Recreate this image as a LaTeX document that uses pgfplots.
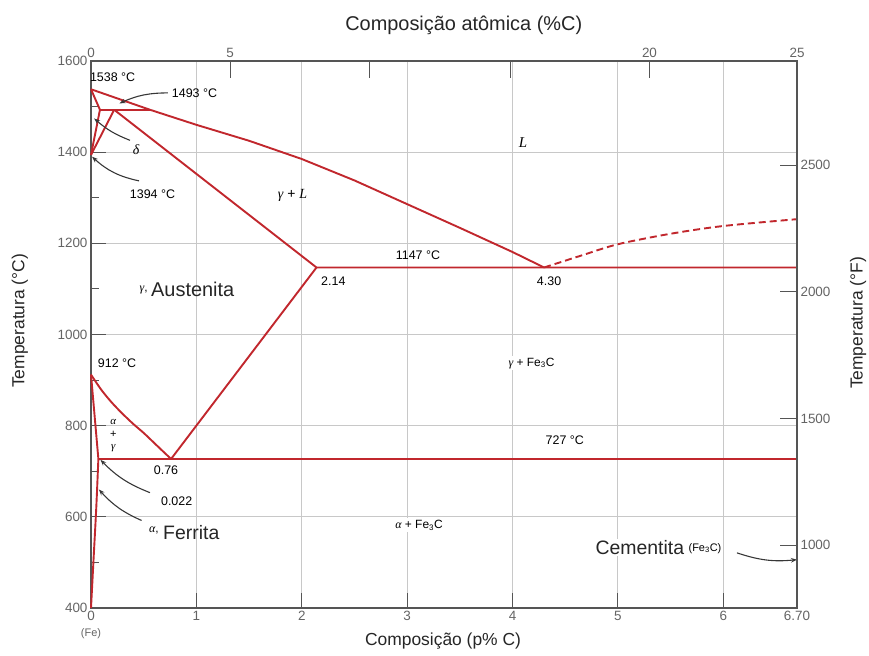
\documentclass[border=0pt]{standalone}
\usepackage{fontspec}
\setmainfont{Liberation Sans}
\newfontfamily\grk{Liberation Serif}
\usepackage{pgfplots}
\pgfplotsset{compat=1.18}
\usetikzlibrary{arrows.meta}
\definecolor{phase}{RGB}{193,39,45}
\definecolor{gridc}{RGB}{200,200,200}
\definecolor{framec}{RGB}{85,85,85}
\definecolor{tl}{RGB}{100,100,100}
\definecolor{txt}{RGB}{75,75,75}
\definecolor{arr}{RGB}{55,55,55}
\newcommand\fs[1]{\fontsize{#1}{#1}\selectfont}
\newcommand\gi[1]{{\grk\itshape #1}}
\begin{document}
\begin{tikzpicture}
\pgfplotsset{common/.style={width=706bp,height=547bp,scale only axis,
  xmin=0,xmax=6.70,ymin=400,ymax=1600,clip=false,
  axis line style={framec,line width=1.1bp},
  tick style={framec,line width=1bp},
  tick label style={font=\fs{13.5}, text=tl},
  label style={font=\fs{17.5}, text=black!85},
  /pgf/number format/assume math mode=true,
  /pgf/number format/1000 sep={},
  tick align=inside},
  pl/.style={draw=phase,line width=1.9bp,line join=round}}
% main axis
\begin{axis}[common,
  xtick={0,1,2,3,4,5,6,6.70}, xticklabels={0,1,2,3,4,5,6,6.70},
  ytick={400,600,...,1600}, minor ytick={500,700,...,1500},
  xtick pos=bottom, ytick pos=left,
  major tick length=15bp, minor tick length=8bp,
  grid=major, grid style={gridc,line width=0.8bp},
  xlabel={Composição (p\% C)},
  xlabel style={at={(axis description cs:0.4986,-0.0603)},anchor=center},
  ylabel={Temperatura (°C)},
  ylabel style={at={(axis description cs:-0.1006,0.525)},anchor=center},
  every node/.append style={text=txt}]
% delta region
\addplot[pl] coordinates {(0,1538) (0.085,1493)};
\addplot[pl] coordinates {(0,1394) (0.085,1493)};
\addplot[pl] coordinates {(0,1394) (0.22,1493)};
\addplot[pl] coordinates {(0.085,1493) (0.56,1493)};
% liquidus
\addplot[pl] coordinates {(0,1538) (0.56,1493) (1.0,1460) (1.5,1425) (2.0,1385) (2.5,1338) (3.0,1286) (3.5,1234) (4.0,1181) (4.30,1147)};
% gamma solidus + eutectic
\addplot[pl] coordinates {(0.22,1493) (2.14,1147) (6.70,1147)};
% Fe3C liquidus (dashed)
\addplot[pl,dash pattern=on 7bp off 4bp,smooth] coordinates {(4.30,1147) (4.65,1173) (5.0,1198) (5.5,1221) (6.0,1238) (6.70,1253)};
% Acm
\addplot[pl] coordinates {(0.76,727) (2.14,1147)};
% A3
\addplot[pl,smooth] coordinates {(0,912) (0.1,878) (0.2,850) (0.3,826) (0.4,804) (0.5,784) (0.6,762) (0.7,740) (0.76,727)};
% alpha solvus
\addplot[pl] coordinates {(0,912) (0.07,727)};
\addplot[pl,smooth] coordinates {(0.07,727) (0.05,620) (0.025,510) (0,400)};
% eutectoid
\addplot[pl] coordinates {(0.07,727) (6.70,727)};
% labels
\node[font=\fs{12.5}] at (axis cs:0.205,1564) {1538 °C};
\node[font=\fs{12.5}] at (axis cs:0.982,1530) {1493 °C};
\draw[arr,line width=1.1bp,-{Stealth[length=6bp,width=4.5bp]}] (axis cs:0.73,1530) to[bend right=12] (axis cs:0.27,1507);
\node[font=\fs{14}] at (axis cs:0.427,1405) {\gi{δ}};
\draw[arr,line width=1.1bp,-{Stealth[length=6bp,width=4.5bp]}] (axis cs:0.37,1426) to[bend left=10] (axis cs:0.03,1474);
\node[font=\fs{12.5}] at (axis cs:0.584,1308) {1394 °C};
\draw[arr,line width=1.1bp,-{Stealth[length=6bp,width=4.5bp]}] (axis cs:0.456,1337) to[bend left=15] (axis cs:0.01,1390);
\node[font=\fs{15}] at (axis cs:4.10,1421) {\gi{L}};
\node[font=\fs{14}] at (axis cs:1.912,1306) {\gi{γ} + \gi{L}};
\node[font=\fs{12.5}] at (axis cs:3.103,1174) {1147 °C};
\node[font=\fs{12.5}] at (axis cs:2.30,1116) {2.14};
\node[font=\fs{12.5}] at (axis cs:4.347,1116) {4.30};
\node[font=\fs{12},anchor=east,inner sep=1bp] at (axis cs:0.55,1098) {\gi{γ},};
\node[font=\fs{20},anchor=west,inner sep=1bp,text=black!85] at (axis cs:0.56,1098) {Austenita};
\node[font=\fs{12.5}] at (axis cs:0.247,937) {912 °C};
\node[font=\fs{12},fill=white,inner sep=1.5bp] at (axis cs:4.18,937) {\gi{γ} + Fe\textsubscript{3}C};
\node[font=\fs{11},inner sep=0bp] at (axis cs:0.212,809) {\gi{α}};
\node[font=\fs{11},inner sep=0bp] at (axis cs:0.212,780) {+};
\node[font=\fs{11},inner sep=0bp] at (axis cs:0.212,751) {\gi{γ}};
\node[font=\fs{12.5}] at (axis cs:4.496,769) {727 °C};
\node[font=\fs{12.5}] at (axis cs:0.712,703) {0.76};
\node[font=\fs{12.5}] at (axis cs:0.813,635) {0.022};
\draw[arr,line width=1.1bp,-{Stealth[length=6bp,width=4.5bp]}] (axis cs:0.56,653) to[bend left=12] (axis cs:0.09,725);
\node[font=\fs{12},anchor=east,inner sep=1bp] at (axis cs:0.655,570) {\gi{α},};
\node[font=\fs{19.5},anchor=west,inner sep=1bp,text=black!85] at (axis cs:0.674,566) {Ferrita};
\draw[arr,line width=1.1bp,-{Stealth[length=6bp,width=4.5bp]}] (axis cs:0.48,592) to[bend left=12] (axis cs:0.075,660);
\node[font=\fs{12},fill=white,inner sep=1.5bp] at (axis cs:3.113,582) {\gi{α} + Fe\textsubscript{3}C};
\node[font=\fs{19.5},anchor=east,fill=white,inner sep=1bp,text=black!85] at (axis cs:5.64,533) {Cementita};
\node[font=\fs{11},anchor=west,inner sep=1bp] at (axis cs:5.66,531) {(Fe\textsubscript{3}C)};
\draw[arr,line width=1.1bp,-{Stealth[length=6bp,width=4.5bp]}] (axis cs:6.13,521) to[bend right=12] (axis cs:6.70,506);
\node[font=\fs{11},text=tl] at (axis cs:0,343) {(Fe)};
\end{axis}
% top axis (atomic %)
\begin{axis}[common, axis x line*=top, hide y axis,
  xtick={0,1.32,2.64,3.98,5.30,6.70}, xticklabels={0,5,,,20,25},
  major tick length=17bp,
  xlabel={Composição atômica (\%C)},
  xlabel style={at={(axis description cs:0.528,1.066)},anchor=center,font=\fs{20}}]
\end{axis}
% right axis (F)
\begin{axis}[common, axis y line*=right, hide x axis,
  ytick={537.78,815.56,1093.33,1371.11}, yticklabels={1000,1500,2000,2500},
  major tick length=17bp,
  ylabel={Temperatura (°F)},
  ylabel style={at={(axis description cs:1.0864,0.521)},anchor=center}]
\end{axis}
\pgfresetboundingbox
\path[use as bounding box] (-91bp,-48bp) rectangle (778bp,608bp);
\end{tikzpicture}
\end{document}
